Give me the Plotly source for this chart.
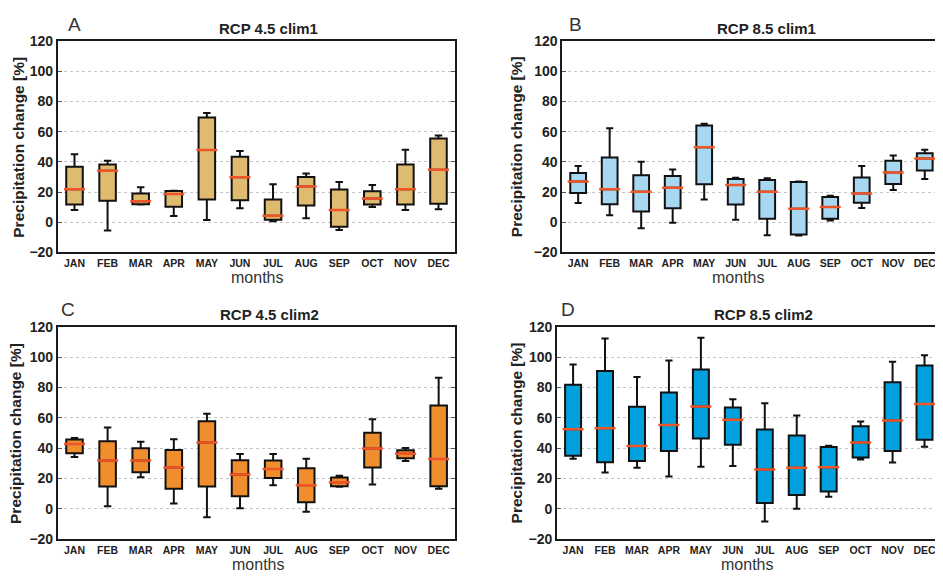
import plotly.graph_objects as go

months = ["JAN", "FEB", "MAR", "APR", "MAY", "JUN", "JUL", "AUG", "SEP", "OCT", "NOV", "DEC"]

# Panel A: RCP 4.5 clim1
a_low = [8.1, -5.4, 11.8, 4.1, 1.5, 9.2, 0.6, 2.6, -5.1, 10.1, 8.1, 8.6]
a_q1 = [11.8, 14.2, 12.0, 10.3, 15.0, 14.6, 1.7, 11.1, -3.0, 11.8, 11.8, 12.2]
a_med = [21.9, 34.1, 13.9, 18.7, 47.8, 29.8, 4.3, 23.6, 8.1, 15.7, 21.9, 34.7]
a_q3 = [36.7, 38.2, 19.1, 20.7, 69.3, 43.3, 15.0, 30.0, 21.7, 20.6, 38.2, 55.5]
a_high = [45.0, 40.7, 23.2, 20.9, 72.3, 47.2, 25.1, 32.2, 26.6, 24.7, 48.0, 57.5]

# Panel B: RCP 8.5 clim1
b_low = [12.7, 4.7, -3.9, -0.4, 15.0, 1.7, -8.6, -8.8, 1.1, 9.4, 21.4, 28.7]
b_q1 = [19.3, 12.0, 7.1, 9.2, 25.1, 11.8, 2.4, -8.1, 2.4, 12.9, 25.3, 34.3]
b_med = [27.0, 21.9, 20.2, 22.9, 49.7, 24.7, 20.2, 9.0, 10.1, 19.1, 33.0, 42.2]
b_q3 = [32.6, 42.9, 31.1, 30.7, 64.1, 28.7, 27.9, 26.6, 16.7, 29.6, 40.7, 45.7]
b_high = [37.3, 62.2, 40.1, 34.9, 65.2, 29.4, 29.2, 27.0, 17.6, 37.3, 44.2, 48.0]

# Panel C: RCP 4.5 clim2
c_low = [34.1, 1.7, 20.9, 3.6, -5.5, 0.4, 15.6, -1.9, 14.6, 16.0, 31.6, 13.2]
c_q1 = [36.7, 14.7, 24.1, 13.2, 14.7, 8.3, 20.3, 4.3, 14.9, 27.3, 33.3, 14.9]
c_med = [42.7, 31.8, 31.8, 27.3, 43.7, 22.6, 26.2, 15.6, 17.5, 39.7, 36.3, 32.9]
c_q3 = [45.7, 44.6, 39.9, 38.8, 57.8, 32.0, 31.8, 26.7, 20.7, 50.1, 38.6, 68.1]
c_high = [46.7, 53.6, 44.2, 45.9, 62.7, 36.1, 36.1, 33.1, 21.8, 59.1, 40.1, 86.4]

# Panel D: RCP 8.5 clim2
d_low = [33.1, 23.9, 27.1, 21.3, 27.7, 28.2, -8.3, 0.0, 7.9, 32.6, 30.5, 41.0]
d_q1 = [35.0, 30.7, 31.6, 38.2, 46.3, 42.3, 3.8, 9.2, 11.5, 33.9, 38.2, 45.5]
d_med = [52.5, 53.1, 41.4, 55.3, 67.4, 58.7, 26.0, 27.1, 27.5, 43.7, 58.3, 69.1]
d_q3 = [81.7, 90.9, 67.2, 76.6, 91.8, 66.8, 52.3, 48.4, 40.8, 54.4, 83.4, 94.5]
d_high = [95.2, 112.2, 86.9, 97.7, 112.7, 72.3, 69.6, 61.5, 41.6, 57.6, 96.9, 101.2]

y_ticks = [-20, 0, 20, 40, 60, 80, 100, 120]

# page body has an 8px margin: the figure fills the rest of the 943x579 window
OFF = 8
W, H = 943 - OFF, 579 - OFF
FONT = "Liberation Sans, Arial, sans-serif"
MEDIAN_COLOR = "#F0552A"


def px_x(p):
    return (p - OFF) / W


def px_y(p):
    return 1 - (p - OFF) / H


panels = [
    dict(name="A", title="RCP 4.5 clim1", color="#DFBB70",
         data=(a_low, a_q1, a_med, a_q3, a_high),
         x0=58, x1=455.5, y0=33.7, y1=251.3,
         letter=(75, 17), tpos=(269, 21), ytitle=19, xtitle=(257, 277)),
    dict(name="B", title="RCP 8.5 clim1", color="#A8D7F1",
         data=(b_low, b_q1, b_med, b_q3, b_high),
         x0=563, x1=941.5, y0=33.7, y1=251.3,
         letter=(576, 17), tpos=(767, 21), ytitle=517, xtitle=(739, 277)),
    dict(name="C", title="RCP 4.5 clim2", color="#F08E2D",
         data=(c_low, c_q1, c_med, c_q3, c_high),
         x0=58, x1=455.7, y0=327.7, y1=546.3,
         letter=(68, 310), tpos=(270, 315), ytitle=16, xtitle=(258, 572)),
    dict(name="D", title="RCP 8.5 clim2", color="#02A1DD",
         data=(d_low, d_q1, d_med, d_q3, d_high),
         x0=557.7, x1=941.5, y0=327.7, y1=546.3,
         letter=(569, 310), tpos=(764, 315), ytitle=518, xtitle=(748, 572)),
]

fig = go.Figure()
annotations = []
layout_axes = {}

for i, p in enumerate(panels):
    idx = "" if i == 0 else str(i + 1)
    xa, ya = "x" + idx, "y" + idx
    low, q1, med, q3, high = p["data"]
    fig.add_trace(go.Box(
        x=months, q1=q1, median=med, q3=q3, lowerfence=low, upperfence=high,
        xaxis=xa, yaxis=ya, fillcolor=p["color"],
        line=dict(color="#111111", width=2), whiskerwidth=0.45,
        width=0.5, boxpoints=False, showlegend=False, hoverinfo="skip",
    ))
    fig.add_trace(go.Scatter(
        x=months, y=med, xaxis=xa, yaxis=ya, mode="markers",
        marker=dict(symbol="line-ew", size=15,
                    line=dict(color=MEDIAN_COLOR, width=2.5)),
        showlegend=False, hoverinfo="skip",
    ))
    layout_axes["xaxis" + idx] = dict(
        domain=[px_x(p["x0"]), min(1, px_x(p["x1"]))], anchor=ya,
        type="category", categoryorder="array", categoryarray=months,
        range=[-0.5, 11.5], showline=True, linecolor="#1a1a1a", linewidth=2,
        mirror=True, ticks="", showgrid=False, zeroline=False,
        tickfont=dict(family=FONT, size=10.5, color="#222222", weight="bold"),
    )
    layout_axes["yaxis" + idx] = dict(
        domain=[px_y(p["y1"]), px_y(p["y0"])], anchor=xa,
        range=[-20, 120], tickvals=y_ticks, showline=True,
        linecolor="#1a1a1a", linewidth=2, mirror="ticks", ticks="inside",
        ticklen=4, tickcolor="#555555",
        showgrid=True, gridcolor="#c4c4c4", griddash="dot", gridwidth=1,
        zeroline=False,
        tickfont=dict(family=FONT, size=14, color="#222222", weight="bold"),
    )
    annotations.append(dict(
        text=p["name"], x=px_x(p["letter"][0]), y=px_y(p["letter"][1]),
        xref="paper", yref="paper", showarrow=False, xanchor="center",
        yanchor="middle", font=dict(family=FONT, size=19, color="#333333"),
    ))
    annotations.append(dict(
        text="<b>" + p["title"] + "</b>", x=px_x(p["tpos"][0]),
        y=px_y(p["tpos"][1]), xref="paper", yref="paper", showarrow=False,
        xanchor="center", yanchor="middle",
        font=dict(family=FONT, size=15, color="#222222"),
    ))
    annotations.append(dict(
        text="<b>Precipitation change [%]</b>", x=px_x(p["ytitle"]),
        y=px_y((p["y0"] + p["y1"]) / 2), xref="paper", yref="paper",
        showarrow=False, xanchor="center", yanchor="middle", textangle=-90,
        font=dict(family=FONT, size=15.5, color="#222222"),
    ))
    annotations.append(dict(
        text="months", x=px_x(p["xtitle"][0]), y=px_y(p["xtitle"][1]),
        xref="paper", yref="paper", showarrow=False, xanchor="center",
        yanchor="middle", font=dict(family=FONT, size=16, color="#333333"),
    ))

fig.update_layout(
    width=W, height=H, margin=dict(l=0, r=0, t=0, b=0),
    paper_bgcolor="white", plot_bgcolor="white",
    annotations=annotations, **layout_axes,
)

fig.write_html("out.html")
